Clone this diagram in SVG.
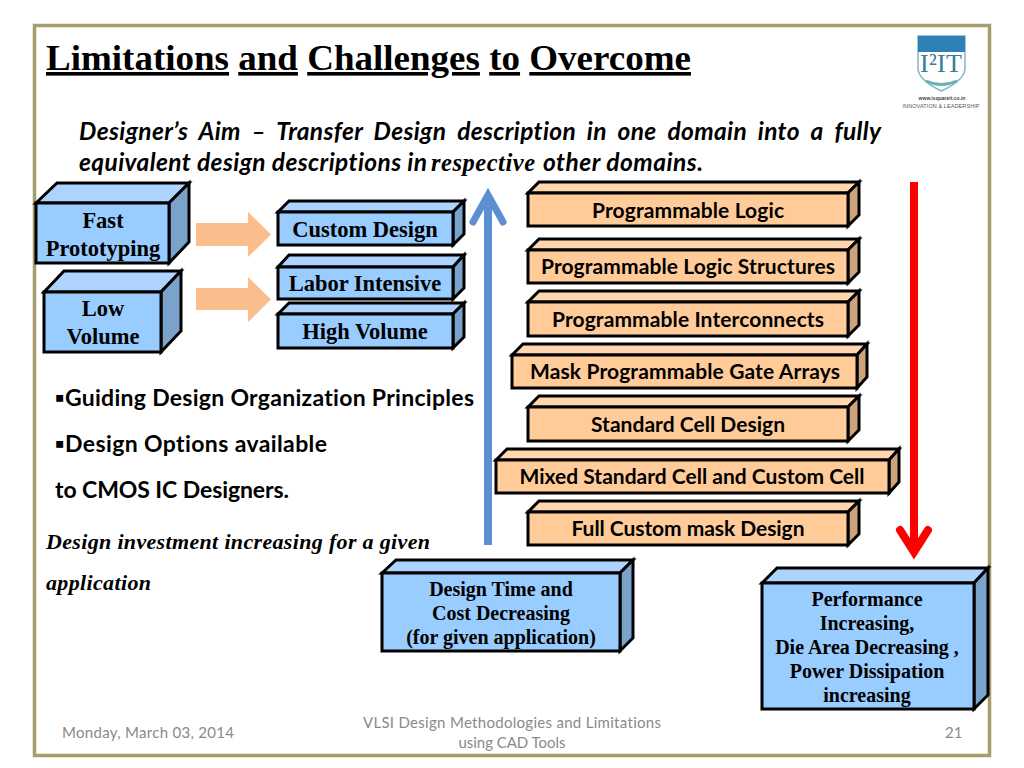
<svg xmlns="http://www.w3.org/2000/svg" width="1024" height="768" viewBox="0 0 1024 768">
<style>
text{font-variant-ligatures:none}
.s{stroke:#000;stroke-width:3;stroke-linejoin:miter}
.bf{fill:#99CCFF}.bt{fill:#ADD3FF}.bs{fill:#7AA3CC}
.of{fill:#FFCC99}.ot{fill:#FFD6AD}.os{fill:#CCA37A}
.sb{font-family:"Liberation Serif",serif;font-weight:bold;fill:#000;text-anchor:middle}
.cb{font-family:Lato,"Liberation Sans",sans-serif;font-weight:bold;fill:#000;text-anchor:middle}
.f{font-family:Lato,"Liberation Sans",sans-serif;fill:#8a8a8a;font-size:15px}
.aim{font-family:Lato,"Liberation Sans",sans-serif;font-weight:bold;font-style:italic;font-size:24.500px}
.body{font-family:Lato,"Liberation Sans",sans-serif;font-weight:bold;font-size:23px}
.it{font-family:"Liberation Serif",serif;font-weight:bold;font-style:italic;font-size:22px}
</style>
<rect width="1024" height="768" fill="#fff"/>
<rect x="34.500" y="25.500" width="955" height="730" fill="#fff" stroke="#A59D6E" stroke-width="3.500"/>
<g id="title">
<text x="46" y="70" font-family="Liberation Serif,serif" font-weight="bold" font-size="36" textLength="645" lengthAdjust="spacingAndGlyphs"><tspan text-decoration="underline">Limitations</tspan> <tspan text-decoration="underline">and</tspan> <tspan text-decoration="underline">Challenges</tspan> <tspan text-decoration="underline">to</tspan> <tspan text-decoration="underline">Overcome</tspan></text>
</g>
<g id="logo">
<path d="M918 36H965V68Q965 80 941.500 91Q918 80 918 68Z" fill="#fff" stroke="#7DB8CC" stroke-width="1.500"/>
<rect x="918" y="36" width="47" height="16" fill="#2F80B5"/>
<text x="941" y="72" text-anchor="middle" font-family="Liberation Serif,serif" font-size="26" fill="#3C7A9C" textLength="42">I²IT</text>
<path d="M926 81Q941 88 957 81" fill="none" stroke="#6FB0B0" stroke-width="3"/>
<text x="942" y="100" text-anchor="middle" font-family="Liberation Sans,sans-serif" font-size="5" font-weight="bold" fill="#444">www.isquareit.co.in</text>
<text x="941" y="108" text-anchor="middle" font-family="Liberation Sans,sans-serif" font-size="5.500" fill="#555" textLength="77">INNOVATION &amp; LEADERSHIP</text>
</g>
<g id="aim">
<text class="aim" x="79" y="140" word-spacing="5" textLength="802">Designer’s Aim – Transfer Design description in one domain into a fully</text>
<text class="aim" x="79" y="171" textLength="348">equivalent design descriptions in</text>
<text class="aim" x="431" y="171" style="font-family:'Liberation Serif',serif" textLength="104">respective</text>
<text class="aim" x="543" y="171" textLength="160">other domains.</text>
</g>
<g id="connectors">
<path d="M196 223H248V212L271 234.500L248 257V246H196Z" fill="#F9BE8C"/>
<path d="M196 288H248V277L271 299.500L248 322V310H196Z" fill="#F9BE8C"/>
<path d="M488 545V195" fill="none" stroke="#5B8FD0" stroke-width="8"/>
<path d="M473 222L488 195L503 222" fill="none" stroke="#5B8FD0" stroke-width="7" stroke-linecap="round"/>
<path d="M914 182V552" fill="none" stroke="#FF0000" stroke-width="8"/>
<path d="M900 530L914 552L928 530" fill="none" stroke="#FF0000" stroke-width="8" stroke-linecap="round"/>
</g>
<g id="fast"><path class="s bt" d="M36 203L57 183H189L169 203Z"/><path class="s bs" d="M169 203L189 183V242L169 263Z"/><rect class="s bf" x="36" y="203" width="133" height="60"/>
<text class="sb" font-size="22.500" x="103" y="228">Fast</text><text class="sb" font-size="22.500" x="103" y="256">Prototyping</text></g>
<g id="low"><path class="s bt" d="M44 292L64 271H181L161 292Z"/><path class="s bs" d="M161 292L181 271V331L161 352Z"/><rect class="s bf" x="44" y="292" width="117" height="60"/>
<text class="sb" font-size="22.500" x="103" y="316">Low</text><text class="sb" font-size="22.500" x="103" y="344">Volume</text></g>
<g id="custom"><path class="s bt" d="M278 212L289 201H464L453 212Z"/><path class="s bs" d="M453 212L464 201V234L453 245Z"/><rect class="s bf" x="278" y="212" width="175" height="33"/>
<text class="sb" font-size="22.500" x="365" y="237">Custom Design</text></g>
<g id="labor"><path class="s bt" d="M278 267L289 255H464L453 267Z"/><path class="s bs" d="M453 267L464 255V288L453 299Z"/><rect class="s bf" x="278" y="267" width="175" height="32"/>
<text class="sb" font-size="22.500" x="365" y="291">Labor Intensive</text></g>
<g id="high"><path class="s bt" d="M278 314L289 303H464L453 314Z"/><path class="s bs" d="M453 314L464 303V337L453 348Z"/><rect class="s bf" x="278" y="314" width="175" height="34"/>
<text class="sb" font-size="22.500" x="365" y="339">High Volume</text></g>
<g id="pl"><path class="s ot" d="M528 193L539 182H859L848 193Z"/><path class="s os" d="M848 193L859 182V215L848 226Z"/><rect class="s of" x="528" y="193" width="320" height="33"/>
<text class="cb" font-size="21" x="688" y="218" textLength="192">Programmable Logic</text></g>
<g id="pls"><path class="s ot" d="M528 250L539 239H859L848 250Z"/><path class="s os" d="M848 250L859 239V272L848 283Z"/><rect class="s of" x="528" y="250" width="320" height="33"/>
<text class="cb" font-size="21" x="688" y="274" textLength="294">Programmable Logic Structures</text></g>
<g id="pi"><path class="s ot" d="M528 302L539 291H859L848 302Z"/><path class="s os" d="M848 302L859 291V325L848 336Z"/><rect class="s of" x="528" y="302" width="320" height="34"/>
<text class="cb" font-size="21" x="688" y="327" textLength="272">Programmable Interconnects</text></g>
<g id="mpga"><path class="s ot" d="M512 355L523 344H867L857 355Z"/><path class="s os" d="M857 355L867 344V377L857 388Z"/><rect class="s of" x="512" y="355" width="345" height="33"/>
<text class="cb" font-size="21" x="685" y="379" textLength="310">Mask Programmable Gate Arrays</text></g>
<g id="scd"><path class="s ot" d="M528 407L539 396H859L848 407Z"/><path class="s os" d="M848 407L859 396V430L848 441Z"/><rect class="s of" x="528" y="407" width="320" height="34"/>
<text class="cb" font-size="21" x="688" y="432" textLength="194">Standard Cell Design</text></g>
<g id="mixed"><path class="s ot" d="M496 460L507 449H899L889 460Z"/><path class="s os" d="M889 460L899 449V482L889 493Z"/><rect class="s of" x="496" y="460" width="393" height="33"/>
<text class="cb" font-size="21" x="692" y="484" textLength="345">Mixed Standard Cell and Custom Cell</text></g>
<g id="full"><path class="s ot" d="M528 512L539 501H859L848 512Z"/><path class="s os" d="M848 512L859 501V534L848 545Z"/><rect class="s of" x="528" y="512" width="320" height="33"/>
<text class="cb" font-size="21" x="688" y="536" textLength="233">Full Custom mask Design</text></g>
<g id="principles">
<text class="body" x="55" y="406" textLength="419">▪Guiding Design Organization Principles</text>
<text class="body" x="55" y="452" textLength="272">▪Design Options available</text>
<text class="body" x="55" y="498" textLength="234">to CMOS IC Designers.</text>
</g>
<g id="investment">
<text class="it" x="46" y="549" textLength="384">Design investment increasing for a given</text>
<text class="it" x="46" y="590" textLength="105">application</text>
</g>
<g id="time"><path class="s bt" d="M382 573L396 560H633L620 573Z"/><path class="s bs" d="M620 573L633 560V638L620 651Z"/><rect class="s bf" x="382" y="573" width="238" height="78"/>
<text class="sb" font-size="20" x="501" y="596">Design Time and</text><text class="sb" font-size="20" x="501" y="620">Cost Decreasing</text><text class="sb" font-size="20" x="501" y="644">(for given application)</text></g>
<g id="perf"><path class="s bt" d="M762 583L777 568H988L974 583Z"/><path class="s bs" d="M974 583L988 568V695L974 709Z"/><rect class="s bf" x="762" y="583" width="212" height="126"/>
<text class="sb" font-size="20" x="867" y="606">Performance</text><text class="sb" font-size="20" x="867" y="630">Increasing,</text><text class="sb" font-size="20" x="867" y="654">Die Area Decreasing ,</text><text class="sb" font-size="20" x="867" y="678">Power Dissipation</text><text class="sb" font-size="20" x="867" y="702">increasing</text></g>
<g id="footer">
<text class="f" x="62" y="738" textLength="172">Monday, March 03, 2014</text>
<text class="f" x="512" y="728" text-anchor="middle" textLength="298">VLSI Design Methodologies and Limitations</text>
<text class="f" x="512" y="748" text-anchor="middle" textLength="107">using CAD Tools</text>
<text class="f" x="945" y="738">21</text>
</g>
</svg>
